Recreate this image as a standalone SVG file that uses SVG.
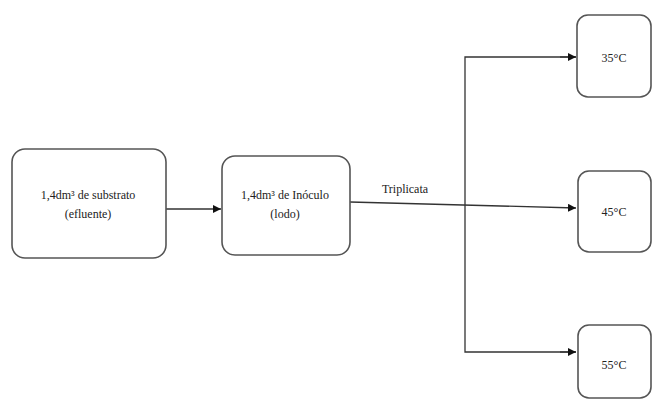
<svg xmlns="http://www.w3.org/2000/svg" width="654" height="400" viewBox="0 0 654 400">
<style>
.box{fill:#fff;stroke:#555;stroke-width:1.6}
.ln{fill:none;stroke:#333;stroke-width:1.3}
.t{font-family:'Liberation Serif','DejaVu Serif',serif;font-size:12px;fill:#222;text-anchor:middle}
</style>
<defs>
<marker id="ah" viewBox="0 0 10 10" refX="10" refY="5" markerWidth="8" markerHeight="8" markerUnits="userSpaceOnUse" orient="auto">
<path d="M0,0 L10,5 L0,10 z" fill="#111"/>
</marker>
</defs>
<g id="connectors">
<line class="ln" x1="166" y1="209" x2="221" y2="209" marker-end="url(#ah)"/>
<line class="ln" x1="350" y1="202" x2="576" y2="208" marker-end="url(#ah)"/>
<polyline class="ln" points="576,57 465,57 465,352 576,352"/>
<line class="ln" x1="560" y1="57" x2="576" y2="57" marker-end="url(#ah)"/>
<line class="ln" x1="560" y1="352" x2="576" y2="352" marker-end="url(#ah)"/>
<text class="t" x="405" y="193">Triplicata</text>
</g>
<g id="substrato">
<rect class="box" x="12" y="149" width="154" height="109" rx="13"/>
<text class="t" x="88" y="199">1,4dm³ de substrato</text>
<text class="t" x="88" y="218">(efluente)</text>
</g>
<g id="inoculo">
<rect class="box" x="222" y="156" width="128" height="99" rx="13"/>
<text class="t" x="285" y="199">1,4dm³ de Inóculo</text>
<text class="t" x="285" y="218">(lodo)</text>
</g>
<g id="t35">
<rect class="box" x="577" y="15" width="74" height="82" rx="11"/>
<text class="t" x="614" y="62">35°C</text>
</g>
<g id="t45">
<rect class="box" x="578" y="171" width="73" height="81" rx="11"/>
<text class="t" x="614" y="216">45°C</text>
</g>
<g id="t55">
<rect class="box" x="578" y="325" width="73" height="73" rx="11"/>
<text class="t" x="614" y="369">55°C</text>
</g>
</svg>
